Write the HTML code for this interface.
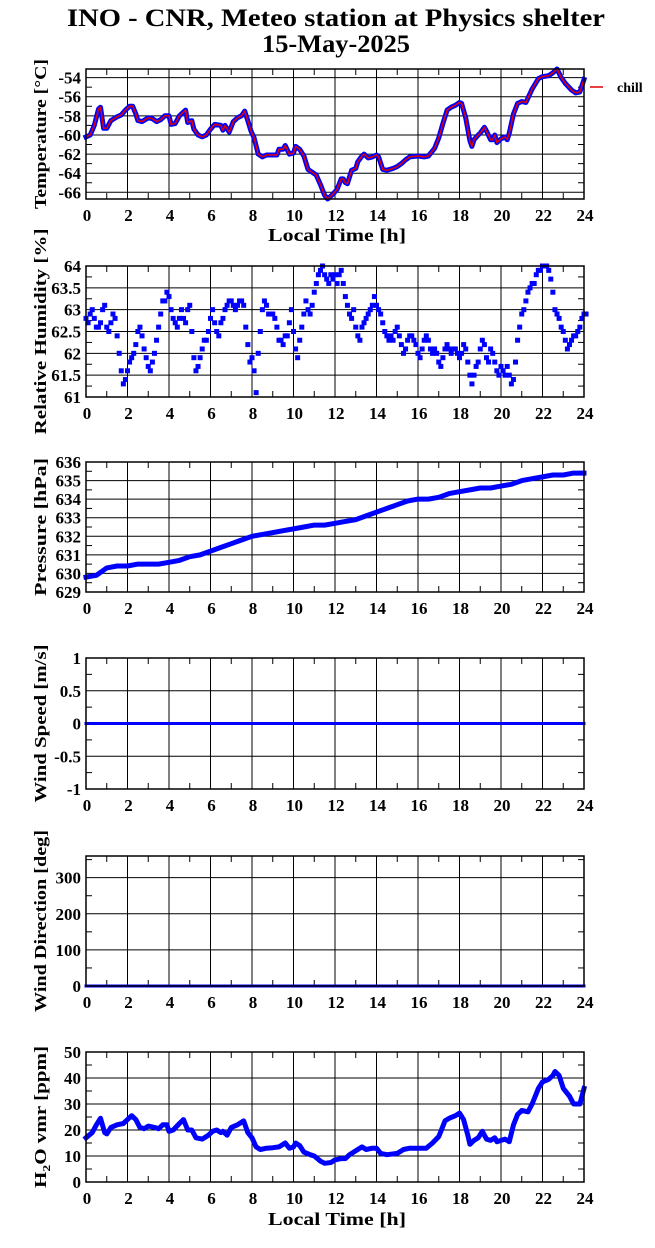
<!DOCTYPE html>
<html><head><meta charset="utf-8">
<style>
html,body{margin:0;padding:0;background:#fff;}
svg{display:block;font-family:"Liberation Serif",serif;font-weight:bold;}
</style></head>
<body>
<svg id="chart" width="655" height="1248" viewBox="0 0 655 1248" xmlns="http://www.w3.org/2000/svg">
<text x="336" y="26" text-anchor="middle" font-size="25" textLength="538" lengthAdjust="spacingAndGlyphs">INO - CNR, Meteo station at Physics shelter</text>
<text x="336" y="52" text-anchor="middle" font-size="25" textLength="148" lengthAdjust="spacingAndGlyphs">15-May-2025</text>
<line x1="590" y1="87" x2="603" y2="87" stroke="#e00000" stroke-width="1.5"/>
<text x="617" y="92" font-size="14">chill</text>
<text x="337" y="241" text-anchor="middle" font-size="18" textLength="138" lengthAdjust="spacingAndGlyphs">Local Time [h]</text>
<text x="337" y="1225" text-anchor="middle" font-size="18" textLength="138" lengthAdjust="spacingAndGlyphs">Local Time [h]</text>
</svg>
<script>
// ---- data ----
const tempTimes=[0,0.2,0.4,0.6,0.7,0.85,1.0,1.2,1.5,1.7,1.9,2.1,2.25,2.4,2.5,2.7,3,3.2,3.4,3.6,3.8,4.0,4.1,4.3,4.5,4.7,4.8,4.9,5.1,5.2,5.4,5.6,5.8,6,6.2,6.5,6.6,6.7,6.9,7.1,7.3,7.5,7.65,7.8,7.95,8.1,8.3,8.5,8.7,9,9.2,9.3,9.5,9.6,9.8,10,10.1,10.3,10.5,10.7,10.9,11.1,11.3,11.5,11.65,11.9,12.1,12.3,12.4,12.5,12.6,12.8,13,13.1,13.3,13.4,13.6,13.8,14,14.1,14.3,14.5,14.8,15,15.2,15.4,15.6,16,16.3,16.5,16.8,17,17.2,17.4,17.6,17.8,18,18.1,18.3,18.5,18.6,18.7,18.9,19,19.2,19.3,19.5,19.6,19.7,19.8,20,20.2,20.3,20.4,20.6,20.8,21,21.2,21.5,21.8,22,22.3,22.5,22.7,22.9,23.1,23.4,23.6,23.8,24];
const tempValues=[-60.2,-60,-59,-57.3,-57.1,-59.3,-59.3,-58.5,-58.1,-57.9,-57.4,-57,-57,-57.8,-58.5,-58.6,-58.2,-58.3,-58.6,-58.4,-58,-58,-58.9,-58.8,-58,-57.6,-57.4,-58.7,-58.5,-59.4,-60,-60.2,-60,-59.4,-58.9,-59,-59.5,-59,-59.7,-58.6,-58.2,-58,-57.5,-58.5,-59.6,-60.3,-62,-62.3,-62.1,-62.1,-62.1,-61.5,-61.5,-61.1,-62,-61.9,-61.2,-61.5,-62.2,-63.6,-63.9,-64.2,-65.2,-66.3,-66.7,-66.2,-65.7,-64.6,-64.6,-65,-65.1,-63.7,-63.5,-62.8,-62.2,-62,-62.4,-62.3,-62.1,-62.3,-63.6,-63.7,-63.5,-63.3,-63,-62.6,-62.3,-62.2,-62.3,-62.2,-61.4,-60.3,-58.8,-57.4,-57.1,-56.9,-56.6,-56.7,-58.2,-60.6,-61.2,-60.5,-60,-59.8,-59.2,-59.6,-60.5,-60.5,-60,-60.8,-60.4,-60.2,-60.5,-59.8,-57.8,-56.7,-56.5,-56.6,-55.2,-54.1,-53.9,-53.8,-53.5,-53.1,-54,-54.6,-55.3,-55.6,-55.5,-54.2];
const chillValues=tempValues.slice();
const humStep=0.1;
const humValues=[62.8,62.7,62.9,63,62.8,62.6,62.6,62.7,63,63.1,62.6,62.5,62.7,62.9,62.8,62.4,62.0,61.6,61.3,61.4,61.6,61.8,61.9,62.0,62.2,62.5,62.6,62.4,62.1,61.9,61.7,61.6,61.8,62.0,62.3,62.6,62.9,63.2,63.2,63.4,63.3,63.0,62.8,62.7,62.6,62.8,63.0,62.8,62.7,63.0,63.1,62.5,61.9,61.6,61.7,61.9,62.1,62.3,62.3,62.5,62.8,63.0,62.7,62.5,62.4,62.7,62.8,63.0,63.1,63.2,63.2,63.1,63.0,63.1,63.2,63.2,63.1,62.6,62.2,61.8,61.9,61.6,61.1,62.0,62.5,63.0,63.2,63.1,62.9,62.9,62.9,62.8,62.6,62.3,62.3,62.2,62.4,62.4,62.7,63.0,62.5,62.1,61.9,62.3,62.6,62.9,63.2,63.0,62.9,63.1,63.4,63.6,63.8,63.9,64.0,63.8,63.7,63.6,63.8,63.7,63.8,63.6,63.8,63.9,63.6,63.3,63.1,62.9,62.8,63.0,62.6,62.4,62.3,62.6,62.7,62.8,62.9,63.0,63.1,63.3,63.1,63.0,62.9,62.7,62.5,62.4,62.3,62.4,62.3,62.5,62.6,62.4,62.2,62.0,62.1,62.3,62.4,62.4,62.3,62.2,62.0,61.9,62.1,62.3,62.4,62.3,62.1,62.0,62.1,62.0,61.8,61.7,61.9,62.1,62.2,62.1,62.0,62.1,62.1,62.0,61.9,62.0,62.2,62.1,61.8,61.5,61.3,61.5,61.7,61.8,62.1,62.3,62.2,61.9,61.8,62.1,62.0,61.8,61.6,61.5,61.7,61.6,61.5,61.7,61.5,61.3,61.4,61.8,62.3,62.6,62.9,63.0,63.2,63.4,63.5,63.6,63.6,63.8,63.9,63.9,64.0,64.0,64.0,63.9,63.7,63.4,63.0,62.9,62.8,62.6,62.5,62.3,62.1,62.2,62.3,62.4,62.4,62.5,62.6,62.8,62.9,62.9];
const presTimes=[0,0.5,1,1.5,2,2.5,3,3.5,4,4.5,5,5.5,6,6.5,7,7.5,8,8.5,9,9.5,10,10.5,11,11.5,12,12.5,13,13.5,14,14.5,15,15.5,16,16.5,17,17.5,18,18.5,19,19.5,20,20.5,21,21.5,22,22.5,23,23.5,24];
const presValues=[629.8,629.9,630.3,630.4,630.4,630.5,630.5,630.5,630.6,630.7,630.9,631.0,631.2,631.4,631.6,631.8,632.0,632.1,632.2,632.3,632.4,632.5,632.6,632.6,632.7,632.8,632.9,633.1,633.3,633.5,633.7,633.9,634.0,634.0,634.1,634.3,634.4,634.5,634.6,634.6,634.7,634.8,635.0,635.1,635.2,635.3,635.3,635.4,635.4];
const windTimes=[0,24];
const windValues=[0,0];
const dirTimes=[0,24];
const dirValues=[0,0];
const h2oTimes=[0,0.3,0.5,0.7,0.9,1.0,1.2,1.5,1.8,2.0,2.2,2.4,2.6,2.8,3,3.3,3.5,3.7,3.9,4.0,4.2,4.5,4.7,4.9,5.1,5.3,5.6,5.9,6.1,6.3,6.5,6.6,6.8,7,7.3,7.6,7.8,8,8.2,8.4,8.7,9,9.3,9.6,9.8,10,10.1,10.3,10.5,10.8,11,11.3,11.5,11.8,12,12.3,12.5,12.7,13,13.3,13.5,13.8,14,14.2,14.5,15,15.3,15.6,16,16.4,16.7,17,17.3,17.5,17.8,18,18.2,18.4,18.5,18.7,18.9,19.1,19.3,19.5,19.7,19.8,20,20.2,20.4,20.6,20.8,21,21.3,21.5,21.8,22,22.3,22.5,22.6,22.8,23,23.3,23.5,23.8,24];
const h2oValues=[17,19,22,24.5,19,18.5,21,22,22.5,24,25.5,24,21,20.5,21.5,21,20.5,22,22,19.5,20,22.5,24,20,20,17,16.5,18,19.5,20,19,19.5,18,21,22,23.5,19,17,13.5,12.5,13,13.2,13.5,15,13,13.5,15,14,11.5,10.5,10,8,7.2,7.5,8.5,9,9,10.5,12,13.5,12.5,13,13,11,10.5,11,12.5,13,13,13,15,17.5,23.5,24.5,25.5,26.5,24,18,14.5,16,17,19.5,16.5,16,17,15.5,16,16.5,15.5,22,26,27.5,27,30,36,38.5,39.5,41,42.5,41,36,33,30,30,36];
const xTickLabels=["0","2","4","6","8","10","12","14","16","18","20","22","24"];
const tempTickLabels=["-66","-64","-62","-60","-58","-56","-54"];
const humTickLabels=["61","61.5","62","62.5","63","63.5","64"];
const presTickLabels=["629","630","631","632","633","634","635","636"];
const windTickLabels=["-1","-0.5","0","0.5","1"];
const dirTickLabels=["0","100","200","300"];
const h2oTickLabels=["0","10","20","30","40","50"];

// ---- layout ----
const NS="http://www.w3.org/2000/svg";
const svg=document.getElementById('chart');
const X0=86,X1=584;
function xs(h){return X0+(h/24)*(X1-X0);}
function mk(tag,attrs,parent){const e=document.createElementNS(NS,tag);for(const k in attrs)e.setAttribute(k,attrs[k]);(parent||svg).appendChild(e);return e;}

const panels=[
 {key:'temp',top:69,bot:199,min:-66.7,max:-53.1,major:2,minor:1,first:-66,labels:tempTickLabels,title:'Temperature [°C]',tl:150},
 {key:'hum',top:266,bot:397,min:61,max:64,major:0.5,minor:0.25,first:61,labels:humTickLabels,title:'Relative Humidity [%]',tl:206},
 {key:'pres',top:462,bot:592,min:629,max:636,major:1,minor:0.5,first:629,labels:presTickLabels,title:'Pressure [hPa]',tl:138},
 {key:'wind',top:658,bot:789,min:-1,max:1,major:0.5,minor:0.25,first:-1,labels:windTickLabels,title:'Wind Speed [m/s]',tl:158},
 {key:'dir',top:856,bot:986,min:0,max:360,major:100,minor:50,first:0,labels:dirTickLabels,title:'Wind Direction [deg]',tl:182},
 {key:'h2o',top:1052,bot:1182,min:0,max:50,major:10,minor:5,first:0,labels:h2oTickLabels,title:'H2O vmr [ppm]',tl:142}
];

panels.forEach(p=>{
 p.ys=v=>p.bot-(v-p.min)/(p.max-p.min)*(p.bot-p.top);
 const g=mk('g',{});
 
 
 for(let h=2;h<24;h+=2){
  const l=mk('line',{x1:xs(h),y1:p.top,x2:xs(h),y2:p.bot,stroke:'#000','stroke-width':1},g);
  
  
 }
 for(let h=1;h<24;h+=2){
  mk('line',{x1:xs(h),y1:p.bot,x2:xs(h),y2:p.bot-6,stroke:'#000'},g);
  mk('line',{x1:xs(h),y1:p.top,x2:xs(h),y2:p.top+6,stroke:'#000'},g);
 }
 for(let i=0;;i++){
  const v=p.first+i*p.major; if(v>p.max+1e-9)break;
  const y=p.ys(v);
  if(v>p.min+1e-9&&v<p.max-1e-9){
   const l=mk('line',{x1:X0,y1:y,x2:X1,y2:y,stroke:'#000','stroke-width':1},g);
   
   
  }
  const t=mk('text',{x:81,y:y+6,'text-anchor':'end','font-size':17},g);
  t.textContent=p.labels[i];
  
  
 }
 for(let v=p.first+p.minor;v<p.max;v+=p.major){
  const y=p.ys(v);
  mk('line',{x1:X0,y1:y,x2:X0+6,y2:y,stroke:'#000'},g);
  mk('line',{x1:X1,y1:y,x2:X1-6,y2:y,stroke:'#000'},g);
 }
 xTickLabels.forEach((lab,i)=>{
  const t=mk('text',{x:xs(i*2)+1,y:p.bot+22,'text-anchor':'middle','font-size':17},g);
  t.textContent=lab;
  
  
 });
 const cy=(p.top+p.bot)/2;
 const tt=mk('text',{x:0,y:0,'text-anchor':'middle','font-size':17,textLength:p.tl,lengthAdjust:'spacingAndGlyphs',transform:`translate(46,${cy}) rotate(-90)`},g);
 
 
 if(p.key==='h2o'){
  tt.appendChild(document.createTextNode('H'));
  const s=mk('tspan',{dy:4,'font-size':11},tt); s.textContent='2';
  const r=mk('tspan',{dy:-4},tt); r.textContent='O vmr [ppm]';
 } else tt.textContent=p.title;
 p.g=g;
});

function line(p,ts,vs,color,w,name){
 const pts=ts.map((t,i)=>xs(t).toFixed(1)+','+p.ys(vs[i]).toFixed(1)).join(' ');
 const pl=mk('polyline',{points:pts,fill:'none',stroke:color,'stroke-width':w,'stroke-linejoin':'round','stroke-linecap':'square'},p.g);
 
 
}
const P={};panels.forEach(p=>P[p.key]=p);

line(P.temp,tempTimes,tempValues,'#0000ff',5,'temperature-line');
line(P.temp,tempTimes,chillValues,'#e00000',1.5,'chill-line');

humValues.forEach((v,i)=>{
 const r=mk('rect',{x:xs(i*humStep)-2.5,y:P.hum.ys(v)-2.5,width:5,height:5,fill:'#0000ff'},P.hum.g);
 
 
});
line(P.pres,presTimes,presValues,'#0000ff',5,'pressure-line');
line(P.wind,windTimes,windValues,'#0000ff',3,'wind-speed-line');
line(P.dir,dirTimes,dirValues,'#0000ff',3,'wind-direction-line');
line(P.h2o,h2oTimes,h2oValues,'#0000ff',5,'h2o-line');

panels.forEach(p=>{
 const f=mk('rect',{x:X0,y:p.top,width:X1-X0,height:p.bot-p.top,fill:'none',stroke:'#000','stroke-width':1.5},p.g);
 
 
});
</script>
</body></html>
